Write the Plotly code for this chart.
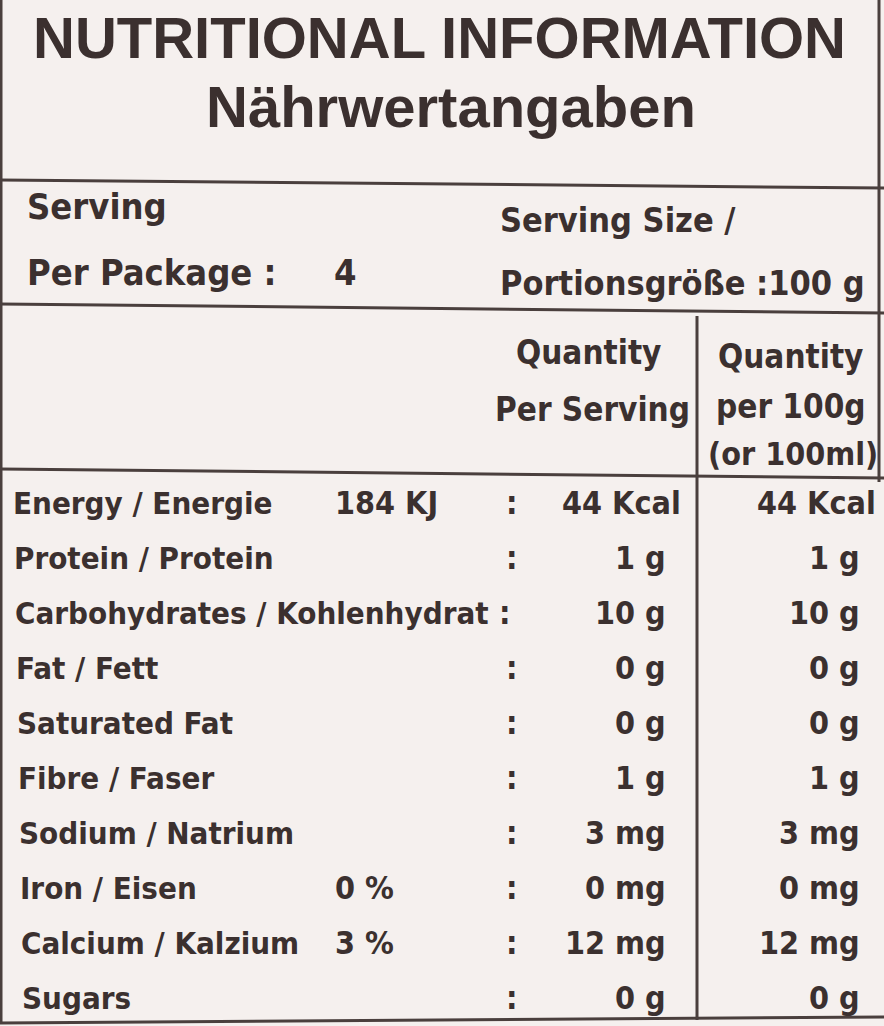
import plotly.graph_objects as go

# label text
title = "NUTRITIONAL INFORMATION"
subtitle = "Nährwertangaben"
servings_label = ["Serving", "Per Package :"]
servings_per_package = "4"
serving_size_label = ["Serving Size /", "Portionsgröße :100 g"]
col_serving = ["Quantity", "Per Serving"]
col_100g = ["Quantity", "per 100g", "(or 100ml)"]

# nutrient rows
nutrients = ["Energy / Energie", "Protein / Protein", "Carbohydrates / Kohlenhydrat",
             "Fat / Fett", "Saturated Fat", "Fibre / Faser", "Sodium / Natrium",
             "Iron / Eisen", "Calcium / Kalzium", "Sugars"]
extra = ["184 KJ", "", "", "", "", "", "", "0 %", "3 %", ""]
per_serving = ["44 Kcal", "1 g", "10 g", "0 g", "0 g", "1 g", "3 mg", "0 mg", "12 mg", "0 g"]
per_100g = ["44 Kcal", "1 g", "10 g", "0 g", "0 g", "1 g", "3 mg", "0 mg", "12 mg", "0 g"]

INK = "#3b302f"
LINE = "#4a3f3d"
BG = "#f5f0ee"
FONT = "DejaVu Sans Condensed, Liberation Sans, sans-serif"

fig = go.Figure()
annotations = []


def txt(x, y, text, size=31, anchor="left", family=FONT):
    annotations.append(dict(
        x=x, y=y, xref="x", yref="y", text=text, showarrow=False,
        xanchor=anchor, yanchor="middle",
        font=dict(family=family, size=size, color=INK, weight="bold"),
    ))


# header
txt(439, 37, title, size=58, anchor="center", family="Liberation Sans")
txt(451, 106, subtitle, size=58, anchor="center", family="Liberation Sans")

txt(25, 206, servings_label[0], size=36)
txt(25, 272, servings_label[1], size=36)
txt(332, 272, servings_per_package, size=36)
txt(498, 220, serving_size_label[0], size=34)
txt(498, 283, serving_size_label[1], size=34)

txt(663, 352, col_serving[0], size=33, anchor="right")
txt(692, 409, col_serving[1], size=33, anchor="right")
txt(790, 356, col_100g[0], size=33, anchor="center")
txt(791, 406, col_100g[1], size=33, anchor="center")
txt(793, 454, col_100g[2], size=32, anchor="center")

# rows
row0, step = 503, 55.0
for i, name in enumerate(nutrients):
    y = row0 + i * step
    txt(11 + i * 1.0, y, name)
    if extra[i]:
        txt(333, y, extra[i], size=32)
    txt(497 if i == 2 else 504, y, ":", size=32)
    txt(683 if i == 0 else 668, y, per_serving[i], size=32, anchor="right")
    txt(878 if i == 0 else 862, y, per_100g[i], size=32, anchor="right")

# rules of the label
rules = [
    (0, 180, 884, 188),
    (0, 304, 884, 313),
    (0, 469, 884, 478),
    (0, 1023, 884, 1017),
    (697, 316, 697, 1020),
    (1, 0, 1, 1023),
    (879, 0, 879, 482),
]
shapes = [dict(type="line", x0=a, y0=b, x1=c, y1=d, xref="x", yref="y",
               line=dict(color=LINE, width=3)) for a, b, c, d in rules]

fig.update_layout(
    width=884, height=1026,
    margin=dict(l=0, r=0, t=0, b=0),
    paper_bgcolor=BG, plot_bgcolor=BG,
    showlegend=False,
    annotations=annotations,
    shapes=shapes,
    xaxis=dict(range=[0, 884], visible=False, fixedrange=True),
    yaxis=dict(range=[1026, 0], visible=False, fixedrange=True),
)

# drop the default page margin so the label fills the window
fig.write_html("out.html", config={"displayModeBar": False},
               post_script="document.body.style.margin = '0';")
